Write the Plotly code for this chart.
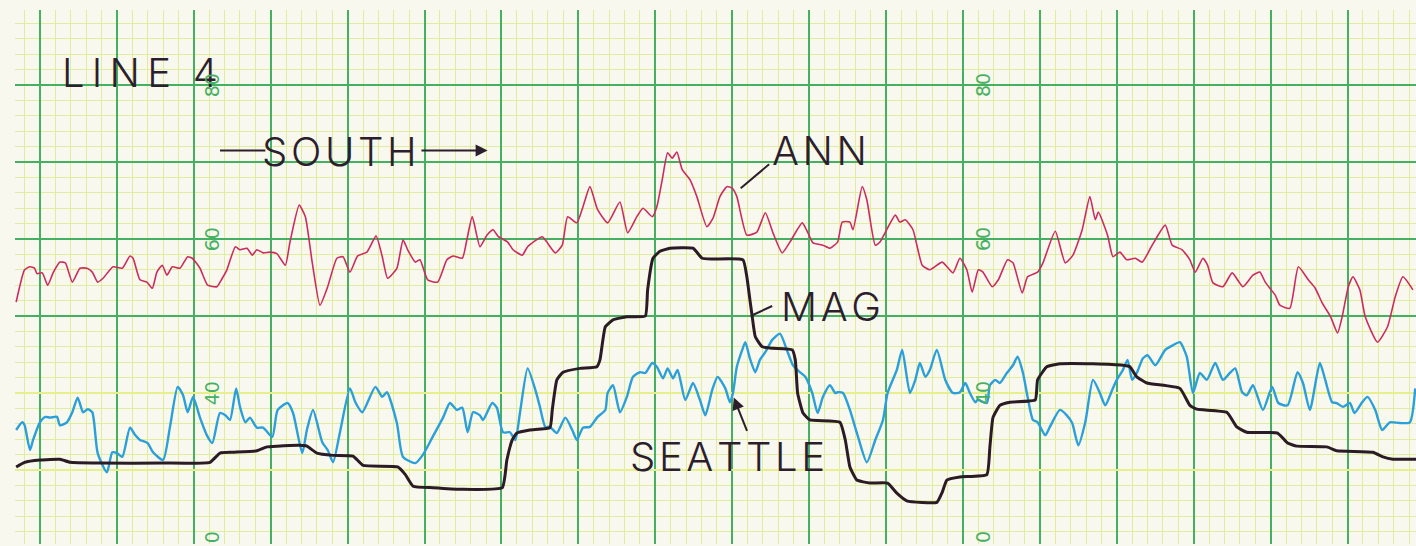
import plotly.graph_objects as go

# ---- chart-recorder traces (x in tenths of a major division, y in scale units) ----
ann_x = [-3.1, -2.0, -1.3, -0.7, -0.4, 0.3, 1.0, 1.7, 2.6, 3.3, 4.2, 5.2, 6.1, 6.8, 7.5, 8.2, 9.5, 10.7,
         11.7, 12.1, 13.0, 13.9, 14.6, 15.2, 15.9, 16.5, 17.2, 18.2, 19.2, 19.8, 20.8, 21.8, 23.0, 23.7,
         24.3, 25.4, 26.0, 26.9, 27.6, 28.2, 29.0, 29.9, 30.8, 31.9, 32.5, 33.7, 34.5, 35.4, 36.4, 37.4,
         38.6, 39.4, 40.3, 41.3, 42.5, 43.7, 44.5, 45.2, 46.4, 47.2, 47.8, 48.8, 49.4, 50.4, 51.7, 52.9,
         53.7, 54.9, 55.5, 56.2, 57.2, 58.1, 58.9, 59.6, 60.8, 61.5, 62.7, 63.4, 65.3, 65.9, 67.0, 67.9,
         68.6, 69.8, 70.6, 71.5, 72.5, 73.8, 75.4, 76.4, 77.6, 78.4, 79.6, 80.2, 80.9, 81.6, 82.2, 82.8,
         83.5, 84.5, 85.4, 86.7, 87.5, 88.4, 89.3, 90.0, 90.6, 91.9, 93.2, 94.3, 95.3, 96.5, 97.5, 99.1,
         99.8, 100.5, 101.8, 102.7, 103.7, 104.3, 105.3, 105.7, 106.9, 107.5, 108.6, 109.2, 111.2, 111.8,
         112.5, 113.5, 114.7, 115.7, 117.3, 118.7, 119.6, 120.5, 121.2, 122.0, 122.6, 123.8, 124.6, 125.8,
         126.5, 127.7, 128.4, 129.7, 130.4, 132.0, 133.3, 134.3, 135.5, 136.5, 137.2, 137.6, 138.8, 139.5,
         140.4, 141.3, 142.4, 143.3, 144.6, 146.3, 147.2, 148.5, 149.5, 150.2, 151.2, 151.8, 152.5, 153.8,
         155.0, 156.4, 157.7, 158.6, 159.3, 160.6, 161.2, 162.5, 163.6, 164.9, 165.8, 166.7, 167.8, 168.7,
         169.3, 170.1, 170.7, 171.6, 172.3, 173.9, 175.2, 176.2, 177.2, 178.5]
ann_y = [51.8, 56.0, 56.4, 56.2, 55.5, 55.6, 54.0, 55.6, 57.0, 56.9, 54.4, 56.2, 56.2, 55.7, 54.4, 54.9, 56.4, 56.2,
         57.8, 57.5, 54.7, 54.4, 53.6, 55.7, 56.6, 55.3, 56.4, 56.2, 57.7, 57.5, 56.2, 54.0, 53.8, 54.9,
         56.0, 59.0, 58.6, 58.8, 57.9, 58.6, 58.2, 58.3, 58.1, 56.6, 59.6, 64.4, 62.9, 56.9, 51.4, 53.8,
         57.5, 57.7, 55.7, 57.8, 58.3, 60.4, 57.7, 54.9, 56.2, 59.9, 58.6, 57.0, 57.3, 54.7, 54.4, 57.3,
         57.8, 57.5, 59.9, 62.9, 59.0, 60.5, 61.2, 60.3, 59.6, 58.6, 57.9, 59.0, 60.3, 59.6, 58.2, 59.2,
         62.9, 62.1, 64.2, 66.8, 63.8, 62.1, 64.8, 60.8, 62.9, 64.0, 62.9, 64.2, 67.7, 71.2, 70.5, 71.3,
         69.0, 67.7, 65.5, 61.6, 62.7, 65.5, 66.8, 66.6, 65.5, 60.5, 60.9, 63.4, 60.8, 58.2, 59.6, 62.1,
         60.9, 59.5, 59.2, 58.8, 59.6, 62.2, 62.2, 61.2, 66.8, 65.1, 59.2, 59.6, 63.1, 62.2,
         62.5, 61.2, 56.6, 56.0, 57.0, 55.6, 57.5, 56.0, 53.1, 56.0, 55.7, 53.8, 54.7, 57.3,
         56.9, 53.0, 55.1, 55.7, 56.9, 61.0, 56.9, 57.9, 61.2, 65.5, 62.5, 63.5, 60.5, 57.7,
         58.3, 57.3, 57.5, 57.0, 59.2, 61.8, 59.2, 58.6, 57.3, 55.7, 57.5, 56.6, 54.3, 53.8,
         55.6, 53.8, 55.3, 55.7, 54.4, 52.7, 51.4, 51.0, 56.4, 54.7, 53.6, 51.7, 49.9, 47.8,
         49.9, 53.8, 55.1, 53.4, 49.9, 46.6, 48.6, 52.5, 55.1, 53.4]

seattle_x = [-3.1, -2.3, -2.0, -1.3, -0.9, 0.0, 0.7, 1.3, 2.2, 2.6, 3.5, 4.2, 4.9, 5.6, 6.2, 6.8, 7.5, 8.7,
             9.4, 10.0, 10.7, 11.7, 12.4, 13.0, 14.0, 14.7, 16.0, 16.9, 17.9, 18.6, 19.2, 19.9, 20.8, 21.7,
             22.4, 23.4, 24.1, 24.7, 25.5, 26.0, 26.7, 27.3, 28.2, 29.0, 30.2, 30.9, 32.2, 32.9, 34.1, 34.7,
             35.5, 36.7, 37.4, 38.1, 39.0, 40.3, 41.0, 41.9, 43.6, 44.5, 45.1, 46.4, 47.2, 48.8, 49.8, 51.0,
             52.4, 53.3, 54.2, 54.9, 55.6, 56.3, 57.2, 57.6, 58.8, 59.4, 60.2, 61.1, 61.8, 62.4, 63.4, 64.4,
             65.0, 65.7, 66.3, 67.2, 68.3, 69.2, 69.8, 70.6, 71.5, 72.5, 73.5, 73.8, 74.5, 75.4, 76.3, 77.1,
             78.0, 78.7, 79.6, 80.2, 81.0, 81.6, 82.3, 82.9, 83.9, 84.9, 85.8, 86.5, 87.4, 88.1, 89.1, 89.7,
             90.1, 90.6, 91.3, 91.7, 92.3, 93.0, 93.6, 94.3, 95.2, 96.2, 97.1, 97.9, 98.8, 99.5, 100.4, 101.1,
             101.8, 102.7, 103.4, 103.7, 104.4, 105.3, 106.3, 107.5, 108.6, 109.6, 110.2, 111.4, 112.1, 113.1,
             113.8, 114.4, 115.1, 115.7, 116.6, 117.7, 118.7, 119.6, 120.3, 120.9, 121.6, 121.9, 123.1, 123.5,
             124.2, 124.8, 125.7, 126.5, 127.1, 127.8, 128.4, 129.1, 129.7, 130.7, 131.3, 132.6, 133.5, 134.2,
             135.0, 135.9, 136.9, 137.8, 138.5, 139.4, 140.0, 140.8, 141.4, 142.0, 142.6, 143.4, 144.0, 145.0,
             146.3, 147.3, 148.2, 149.1, 149.9, 150.8, 151.7, 152.8, 153.8, 154.7, 155.4, 156.3, 156.9, 157.7,
             159.0, 160.2, 161.0, 162.2, 163.5, 164.2, 165.1, 166.4, 167.1, 168.0, 168.6, 169.4, 170.3, 170.9,
             171.9, 172.6, 173.6, 174.5, 175.5, 176.8, 178.1, 178.8]
seattle_y = [35.2, 36.2, 35.8, 32.6, 33.9, 36.2, 36.9, 36.8, 36.9, 35.8, 36.2, 37.5, 39.4, 37.5, 37.9, 37.5, 32.2, 29.7,
             32.3, 32.2, 31.7, 35.5, 34.5, 33.9, 33.5, 32.3, 31.3, 35.6, 40.8, 39.7, 37.5, 39.5, 36.8, 34.5,
             33.5, 37.4, 37.1, 36.5, 40.6, 38.2, 36.2, 36.8, 35.5, 35.5, 34.3, 37.8, 38.7, 37.4, 32.2, 35.2,
             37.8, 33.6, 32.6, 31.0, 34.9, 40.6, 38.8, 37.5, 40.8, 39.5, 40.1, 36.1, 31.7, 30.9, 32.0, 34.2,
             36.8, 38.7, 37.8, 38.1, 34.9, 37.5, 37.1, 36.5, 38.7, 38.1, 34.9, 34.9, 33.9, 37.4, 43.2, 40.4,
             38.2, 35.6, 35.6, 34.8, 36.8, 35.2, 33.9, 35.5, 35.6, 36.9, 37.8, 40.0, 41.0, 37.5, 39.5, 42.1,
             42.7, 42.6, 43.9, 43.4, 41.9, 43.2, 41.9, 43.0, 39.1, 41.3, 39.1, 37.1, 40.4, 42.1, 40.6, 38.8,
             40.0, 43.4, 45.6, 46.6, 44.5, 42.7, 44.3, 45.3, 46.9, 47.7, 45.6, 43.6, 42.7, 42.1, 40.0, 37.4,
             39.5, 41.0, 40.0, 40.1, 40.0, 37.8, 34.5, 31.0, 33.9, 36.5, 40.0, 43.0, 45.6, 40.0,
             41.7, 43.9, 42.1, 43.0, 45.6, 41.7, 40.0, 40.1, 41.3, 40.0, 38.8, 39.1, 38.7, 41.0,
             41.7, 41.3, 42.6, 43.6, 44.7, 42.6, 39.5, 36.5, 36.2, 34.5, 35.6, 37.8, 37.1, 36.1,
             33.2, 36.2, 41.7, 40.0, 38.4, 40.4, 41.7, 43.0, 44.3, 41.7, 42.6, 44.5, 44.9, 43.6,
             45.6, 46.2, 46.6, 44.7, 40.0, 42.6, 41.7, 43.9, 41.7, 42.6, 43.2, 40.1, 39.7, 41.0,
             37.8, 40.8, 38.7, 38.4, 42.7, 41.3, 37.8, 43.9, 41.7, 38.8, 38.7, 38.2, 38.7, 37.4,
             38.8, 39.5, 37.8, 35.2, 36.2, 36.1, 36.2, 40.6]

mag_x = [-3.1, -2.0, 0.0, 2.6, 3.9, 7.8, 16.0, 22.1, 23.4, 25.1, 28.2, 29.5, 30.8, 33.8, 34.7, 36.0, 38.1,
         40.7, 42.0, 46.5, 47.5, 48.5, 51.1, 54.6, 60.1, 60.7, 61.4, 62.0, 63.7, 66.3, 66.6, 67.2, 68.0,
         70.2, 72.4, 72.8, 73.5, 74.5, 76.3, 78.7, 79.0, 79.7, 80.6, 81.9, 84.9, 86.1, 87.5, 91.4, 91.9,
         92.3, 92.6, 93.0, 93.9, 95.3, 97.8, 98.2, 98.5, 99.2, 100.1, 104.0, 104.7, 105.3, 106.2, 107.9,
         110.2, 111.4, 112.7, 116.6, 117.3, 117.9, 119.6, 123.1, 123.5, 123.9, 124.8, 126.1, 129.4, 129.7,
         130.9, 132.6, 136.9, 140.8, 141.7, 142.6, 143.9, 148.2, 149.5, 150.4, 154.3, 155.6, 156.9, 160.9,
         162.2, 163.4, 167.3, 168.6, 173.3, 174.6, 175.9, 178.9]
mag_y = [30.4, 31.0, 31.3, 31.4, 31.0, 30.9, 30.9, 31.0, 32.2, 32.3, 32.5, 33.0, 33.1, 33.2, 33.1, 32.2, 31.9,
         31.8, 30.6, 30.4, 29.4, 27.9, 27.7, 27.5, 27.7, 31.3, 33.9, 34.8, 35.2, 35.5, 37.8, 41.7, 42.7,
         43.2, 43.4, 44.3, 48.6, 49.5, 49.9, 50.0, 53.4, 57.5, 58.4, 58.8, 58.8, 57.5, 57.4, 57.3, 55.1,
         52.1, 49.9, 47.3, 46.0, 45.8, 45.6, 44.3, 40.0, 37.4, 36.5, 36.2, 33.9, 30.4, 28.7, 28.3,
         28.3, 27.0, 26.0, 25.8, 27.1, 28.7, 29.1, 29.4, 33.0, 36.8, 38.4, 38.8, 39.1, 41.7,
         43.4, 43.8, 43.8, 43.6, 43.4, 42.1, 41.3, 40.6, 38.4, 37.9, 37.5, 35.6, 34.9, 34.8,
         33.5, 33.1, 33.0, 32.5, 32.3, 31.7, 31.4, 31.4]

# printed scale figures on the paper (two columns)
scale_cols = [22.4, 122.6]
scale_vals = [80, 60, 40]
scale_zero_y = 21.3

# hand lettering: (text, x, y); narrow spaces widen the stencil spacing
TS = "\u2009"
HS = "\u200a"
labels = [(TS.join("LINE") + TS * 3 + "4", 13.0, 81.6), (HS.join("SOUTH"), 39.0, 71.3),
          (HS.join("ANN"), 101.4, 71.5), (HS.join("MAG"), 102.9, 51.2),
          (HS.join("SEATTLE"), 89.4, 31.8)]

PAPER = "#f8f8ef"
GREEN = "#45b062"
YELLOW = "#e6ee8e"
MINOR = "#e0ec9e"
INK = "#2c1e2c"
LETTER_FONT = dict(family="Inter, Lato, DejaVu Sans", size=40, color=INK, weight=350)

X_RANGE = [-3.25, 178.9]
Y_RANGE = [20.39, 89.74]

fig = go.Figure()

fig.add_trace(go.Scatter(x=ann_x, y=ann_y, mode="lines",
                         line=dict(color="#cc2b60", width=1.6, shape="spline", smoothing=0.5),
                         hoverinfo="skip", showlegend=False))
fig.add_trace(go.Scatter(x=seattle_x, y=seattle_y, mode="lines",
                         line=dict(color="#2b9fda", width=2.4, shape="spline", smoothing=0.6),
                         hoverinfo="skip", showlegend=False))
fig.add_trace(go.Scatter(x=mag_x, y=mag_y, mode="lines",
                         line=dict(color="#2a1b24", width=3, shape="spline", smoothing=0.4),
                         hoverinfo="skip", showlegend=False))

annotations = []
for text, lx, ly in labels:
    annotations.append(dict(x=lx, y=ly, xref="x", yref="y", text=text, showarrow=False,
                            font=LETTER_FONT, xanchor="center", yanchor="middle"))

for cx in scale_cols:
    for v in scale_vals:
        annotations.append(dict(x=cx, y=v, xref="x", yref="y", text=str(v), showarrow=False,
                                textangle=-90, font=dict(family="DejaVu Sans", size=19, color=GREEN)))
    annotations.append(dict(x=cx, y=scale_zero_y, xref="x", yref="y", text="0", showarrow=False,
                            textangle=-90, font=dict(family="DejaVu Sans", size=19, color=GREEN)))

# direction arrow after SOUTH
annotations.append(dict(x=58.2, y=71.5, ax=49.4, ay=71.5, xref="x", yref="y", axref="x", ayref="y",
                        text="", showarrow=True, arrowhead=2, arrowsize=1.2, arrowwidth=2,
                        arrowcolor=INK))
# pointer to the SEATTLE trace
annotations.append(dict(x=90.2, y=39.4, ax=92.0, ay=34.9, xref="x", yref="y", axref="x", ayref="y",
                        text="", showarrow=True, arrowhead=2, arrowsize=1.2, arrowwidth=2,
                        arrowcolor=INK))

shapes = [
    # dash before SOUTH
    dict(type="line", x0=23.4, x1=29.3, y0=71.5, y1=71.5, xref="x", yref="y",
         line=dict(color=INK, width=2)),
    # leader from ANN
    dict(type="line", x0=94.8, x1=91.1, y0=69.7, y1=66.6, xref="x", yref="y",
         line=dict(color=INK, width=2)),
    # leader from MAG
    dict(type="line", x0=92.6, x1=95.2, y0=50.1, y1=51.3, xref="x", yref="y",
         line=dict(color=INK, width=2)),
]

fig.update_layout(
    width=1416, height=546,
    margin=dict(l=15, r=0, t=10, b=2),
    paper_bgcolor=PAPER, plot_bgcolor=PAPER,
    showlegend=False,
    annotations=annotations,
    shapes=shapes,
    xaxis=dict(range=X_RANGE, showticklabels=False, ticks="", zeroline=False, showline=False,
               tick0=0, dtick=10, showgrid=True, gridcolor=GREEN, gridwidth=2,
               minor=dict(tick0=0, dtick=2, showgrid=True, gridcolor=MINOR, gridwidth=1)),
    yaxis=dict(range=Y_RANGE, showticklabels=False, ticks="", zeroline=False, showline=False,
               tickmode="array", tickvals=[50, 60, 70, 80], showgrid=True, gridcolor=GREEN, gridwidth=2,
               minor=dict(tick0=0, dtick=2, showgrid=True, gridcolor=MINOR, gridwidth=1)),
    yaxis2=dict(range=Y_RANGE, overlaying="y", showticklabels=False, ticks="", zeroline=False,
                showline=False, tickmode="array", tickvals=[30, 40], showgrid=True,
                gridcolor=YELLOW, gridwidth=2),
)

# invisible trace so the second y axis (lower horizontal rules) is rendered
fig.add_trace(go.Scatter(x=[X_RANGE[0]], y=[Y_RANGE[0]], yaxis="y2", mode="markers",
                         marker=dict(opacity=0), hoverinfo="skip", showlegend=False))

fig.write_html("out.html")
